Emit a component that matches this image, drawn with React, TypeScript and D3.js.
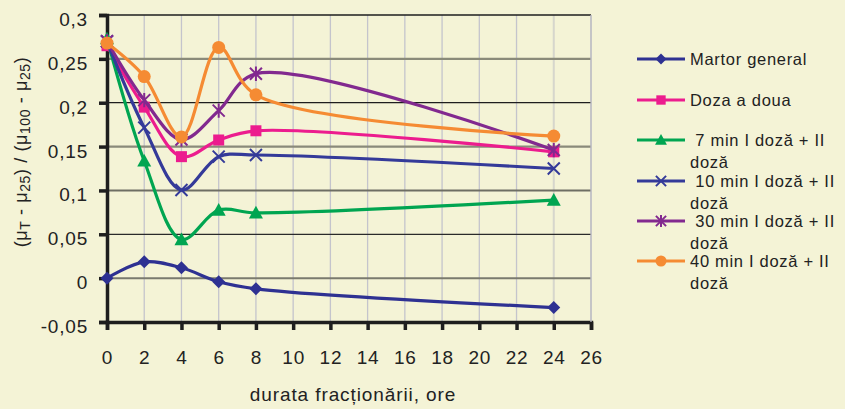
import { useEffect, useRef } from 'react';
import * as d3 from 'd3';

const hours = [0, 2, 4, 6, 8, 24];
const martorGeneral = [0, 0.0186, 0.0118, -0.0042, -0.0122, -0.0335];
const dozaADoua = [0.265, 0.195, 0.1385, 0.1575, 0.168, 0.144];
const min7 = [0.273, 0.1336, 0.044, 0.0776, 0.0745, 0.089];
const min10 = [0.27, 0.1716, 0.1005, 0.1385, 0.1404, 0.125];
const min30 = [0.27, 0.203, 0.158, 0.191, 0.233, 0.146];
const min40 = [0.268, 0.2298, 0.161, 0.263, 0.209, 0.162];

const seriesNames = [
  ['Martor general'],
  ['Doza a doua'],
  ['\u00a07 min I doză + II', 'doză'],
  ['\u00a010 min I doză + II', 'doză'],
  ['\u00a030 min I doză + II', 'doză'],
  ['40 min I doză + II', 'doză'],
];
const xTicks = d3.range(0, 27, 2);
const yTicks = [-0.05, 0, 0.05, 0.1, 0.15, 0.2, 0.25, 0.3];
const yTickLabels = ['-0,05', '0', '0,05', '0,1', '0,15', '0,2', '0,25', '0,3'];

const colors = ['#2E3192', '#EC1C8E', '#00A551', '#343A99', '#82298F', '#F58B33'];
const markers = ['diamond', 'square', 'triangle', 'x', 'star', 'circle'];

const W = 845;
const H = 409;
const FONT = '"Liberation Sans", Arial, sans-serif';

function drawMarker(g: any, kind: string, color: string, x: number, y: number, k = 1) {
  if (kind === 'diamond') {
    const s = 6.5 * k;
    g.append('path').attr('d', `M${x},${y - s}L${x + s},${y}L${x},${y + s}L${x - s},${y}Z`).attr('fill', color);
  } else if (kind === 'square') {
    const s = 5.5 * k;
    g.append('rect').attr('x', x - s).attr('y', y - s).attr('width', 2 * s).attr('height', 2 * s).attr('fill', color);
  } else if (kind === 'triangle') {
    const s = 7 * k;
    g.append('path').attr('d', `M${x},${y - s}L${x + s},${y + s * 0.8}L${x - s},${y + s * 0.8}Z`).attr('fill', color);
  } else if (kind === 'x') {
    const s = 6 * k;
    g.append('path').attr('d', `M${x - s},${y - s}L${x + s},${y + s}M${x - s},${y + s}L${x + s},${y - s}`)
      .attr('stroke', color).attr('stroke-width', 2).attr('fill', 'none');
  } else if (kind === 'star') {
    const s = 6 * k;
    g.append('path').attr('d', `M${x - s},${y - s}L${x + s},${y + s}M${x - s},${y + s}L${x + s},${y - s}M${x},${y - s * 1.2}L${x},${y + s * 1.2}`)
      .attr('stroke', color).attr('stroke-width', 2).attr('fill', 'none');
  } else {
    g.append('circle').attr('cx', x).attr('cy', y).attr('r', 6.5 * k).attr('fill', color);
  }
}

export default function App() {
  const svgRef = useRef<SVGSVGElement>(null);

  useEffect(() => {
    if (!svgRef.current) return;
    const svg = d3.select(svgRef.current);
    svg.selectAll('*').remove();

    const x = d3.scaleLinear().domain([0, 26]).range([107, 591]);
    const y = d3.scaleLinear().domain([-0.05, 0.3]).range([322, 15]);

    svg.append('rect').attr('width', W).attr('height', H).attr('fill', '#F4F3D6');

    // vertical grid
    svg.append('g')
      .selectAll('line')
      .data(xTicks.filter((d) => d > 0))
      .join('line')
      .attr('x1', (d) => x(d)).attr('x2', (d) => x(d))
      .attr('y1', y(0.3)).attr('y2', y(-0.05))
      .attr('stroke', (d) => (d === 24 ? '#D6D6CC' : '#C4C4CC'))
      .attr('stroke-width', (d) => (d === 24 ? 2 : 1.3));

    // horizontal grid, alternating dark / grey
    const hStyle: Record<string, [string, number]> = {
      '0.3': ['#1E1E1E', 1.3],
      '0.25': ['#8A8A7A', 2.2],
      '0.2': ['#1E1E1E', 1.3],
      '0.15': ['#8A8A7A', 2.2],
      '0.1': ['#6E6E64', 2],
      '0.05': ['#2A2A2A', 1.3],
      '0': ['#7A7A6E', 2],
    };
    svg.append('g')
      .selectAll('line')
      .data(yTicks.filter((d) => d > -0.05))
      .join('line')
      .attr('x1', x(0)).attr('x2', x(26))
      .attr('y1', (d) => y(d)).attr('y2', (d) => y(d))
      .attr('stroke', (d) => hStyle[String(d)][0])
      .attr('stroke-width', (d) => hStyle[String(d)][1]);

    // axes
    const yAxis = d3.axisLeft(y).tickValues(yTicks).tickSize(8).tickPadding(11)
      .tickFormat((_d, i) => yTickLabels[i]);
    const gy = svg.append('g').attr('transform', `translate(${x(0)},0)`).call(yAxis as any);
    gy.select('.domain').attr('stroke', '#1E1E1E').attr('stroke-width', 3.5);
    gy.selectAll('.tick line').attr('stroke', '#1E1E1E').attr('stroke-width', 3.5);
    gy.selectAll('.tick text').attr('font-family', FONT).attr('font-size', 19)
      .attr('letter-spacing', 0.8).attr('fill', '#222').attr('dy', '0.55em');

    const xAxis = d3.axisBottom(x).tickValues(xTicks).tickSize(8).tickPadding(21).tickFormat(d3.format('d'));
    const gx = svg.append('g').attr('transform', `translate(0,${y(-0.05)})`).call(xAxis as any);
    gx.select('.domain').attr('stroke', '#1E1E1E').attr('stroke-width', 3.5);
    gx.selectAll('.tick line').attr('stroke', '#1E1E1E').attr('stroke-width', 3.5);
    gx.selectAll('.tick text').attr('font-family', FONT).attr('font-size', 19)
      .attr('letter-spacing', 0.8).attr('fill', '#222');
    // right border
    svg.append('line').attr('x1', x(26)).attr('x2', x(26)).attr('y1', y(0.3)).attr('y2', y(-0.05))
      .attr('stroke', '#BDBDC2').attr('stroke-width', 1.3);

    // series
    const allSeries = [martorGeneral, dozaADoua, min7, min10, min30, min40];
    const line = d3.line<number>()
      .x((_d, i) => x(hours[i]))
      .y((d) => y(d))
      .curve(d3.curveCatmullRom.alpha(0.5));

    allSeries.forEach((vals, si) => {
      const g = svg.append('g');
      g.append('path').datum(vals).attr('d', line as any)
        .attr('fill', 'none').attr('stroke', colors[si]).attr('stroke-width', 3.2)
        .attr('stroke-linejoin', 'round');
      vals.forEach((v, i) => drawMarker(g, markers[si], colors[si], x(hours[i]), y(v)));
    });

    // axis titles
    svg.append('text').attr('x', 353).attr('y', 401).attr('text-anchor', 'middle')
      .attr('font-family', FONT).attr('font-size', 19).attr('letter-spacing', 0.9).attr('fill', '#222')
      .text('durata fracționării, ore');

    const yt = svg.append('text').attr('transform', 'translate(27,152) rotate(-90)')
      .attr('text-anchor', 'middle').attr('font-family', FONT).attr('font-size', 18)
      .attr('letter-spacing', 0.6).attr('fill', '#222');
    const parts: [string, boolean][] = [
      ['(μ', false], ['T', true], [' - μ', false], ['25', true], [') / (μ', false],
      ['100', true], [' - μ', false], ['25', true], [')', false],
    ];
    parts.forEach(([t, sub]) => {
      yt.append('tspan').attr('font-size', sub ? 14 : 18).attr('dy', sub ? 3 : -3).text(t);
    });
    yt.selectAll('tspan').filter((_d, i) => i === 0).attr('dy', 0);

    // legend
    const legendY = [59, 100, 140, 181, 221, 261];
    seriesNames.forEach((lines, si) => {
      const g = svg.append('g');
      const ly = legendY[si];
      g.append('line').attr('x1', 637).attr('x2', 685).attr('y1', ly).attr('y2', ly)
        .attr('stroke', colors[si]).attr('stroke-width', 3.2);
      drawMarker(g, markers[si], colors[si], 661, ly, 0.85);
      lines.forEach((t, li) => {
        g.append('text').attr('x', 690).attr('y', ly + 6 + li * 22)
          .attr('font-family', FONT).attr('font-size', 16.5).attr('letter-spacing', 0.7)
          .attr('fill', '#222').attr('xml:space', 'preserve').text(t);
      });
    });
  }, []);

  return (
    <svg
      ref={svgRef}
      width={W}
      height={H}
      style={{ position: 'absolute', left: 0, top: 0, display: 'block' }}
    />
  );
}
